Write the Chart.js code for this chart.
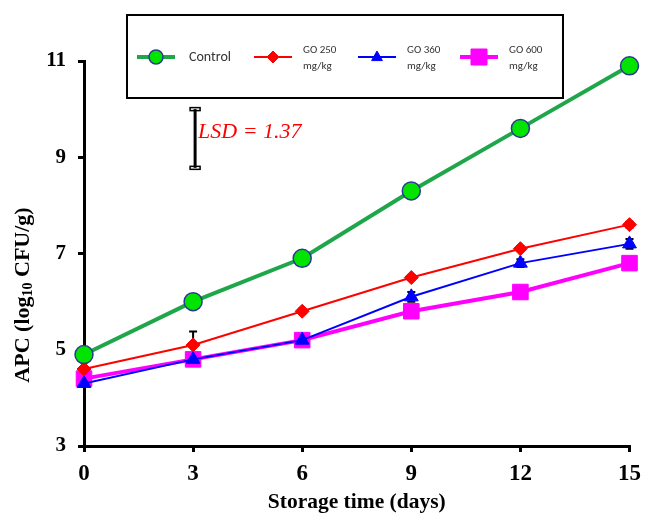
<!DOCTYPE html>
<html>
<head>
<meta charset="utf-8">
<script src="https://cdn.jsdelivr.net/npm/chart.js@4.4.1/dist/chart.umd.min.js"></script>
<style>
  html, body { margin: 0; padding: 0; background: #fff; }
  #wrap { position: relative; width: 649px; height: 515px; }
</style>
</head>
<body>
<div id="wrap"><canvas id="apcChart" width="649" height="515"></canvas></div>
<script>
  const days = [0, 3, 6, 9, 12, 15];
  const yTicks = [3, 5, 7, 9, 11];

  const control = [4.9, 6.0, 6.9, 8.3, 9.6, 10.9];
  const go250 = [4.6, 5.1, 5.8, 6.5, 7.1, 7.6];
  const go360 = [4.3, 4.8, 5.2, 6.1, 6.8, 7.2];
  const go600 = [4.4, 4.8, 5.2, 5.8, 6.2, 6.8];

  const controlErr = [0.05, 0.15, 0.05, 0.05, 0.05, 0.05];
  const go250Err = [0.05, 0.28, 0.05, 0.05, 0.05, 0.06];
  const go360Err = [0.05, 0.05, 0.05, 0.1, 0.08, 0.1];
  const go600Err = [0.04, 0.04, 0.04, 0.04, 0.04, 0.04];

  const lsdValue = 1.37;
  const lsdDay = 3;
  const lsdTop = 10.0;
  const lsdBottom = 8.78;

  const serif = '"Liberation Serif", "Times New Roman", serif';
  const sans = 'Calibri, Carlito, "Open Sans", "Liberation Sans", sans-serif';

  const toXY = (vals) => vals.map((v, i) => ({ x: days[i], y: v }));

  const series = [
    { label: 'Control', data: control, err: controlErr, line: '#1FA64A', width: 4, style: 'circle', radius: 9, fill: '#00E400', border: '#2B3990', borderW: 1.5 },
    { label: 'GO 250|mg/kg', data: go250, err: go250Err, line: '#FF0000', width: 2, style: 'rectRot', radius: 7, fill: '#FF0000', border: '#FF0000', borderW: 1 },
    { label: 'GO 360|mg/kg', data: go360, err: go360Err, line: '#0000FF', width: 2, style: 'triangle', radius: 8, fill: '#0000FF', border: '#0000FF', borderW: 1 },
    { label: 'GO 600|mg/kg', data: go600, err: go600Err, line: '#FF00FF', width: 4, style: 'rect', radius: 11, fill: '#FF00FF', border: '#FF00FF', borderW: 1 }
  ];

  function marker(ctx, s, x, y, r) {
    ctx.save();
    ctx.fillStyle = s.fill;
    ctx.strokeStyle = s.border;
    ctx.lineWidth = s.borderW;
    ctx.beginPath();
    if (s.style === 'circle') {
      ctx.arc(x, y, r, 0, Math.PI * 2);
    } else if (s.style === 'rectRot') {
      ctx.moveTo(x, y - r); ctx.lineTo(x + r, y); ctx.lineTo(x, y + r); ctx.lineTo(x - r, y); ctx.closePath();
    } else if (s.style === 'triangle') {
      ctx.moveTo(x, y - r); ctx.lineTo(x + r * 0.9, y + r * 0.6); ctx.lineTo(x - r * 0.9, y + r * 0.6); ctx.closePath();
    } else {
      ctx.rect(x - r, y - r, r * 2, r * 2);
    }
    ctx.fill();
    ctx.stroke();
    ctx.restore();
  }

  const errorBars = {
    id: 'errorBars',
    beforeDatasetsDraw(chart) {
      const { ctx, scales: { x, y } } = chart;
      ctx.save();
      ctx.strokeStyle = '#000';
      ctx.lineWidth = 2;
      series.forEach((s) => {
        s.data.forEach((v, i) => {
          const px = x.getPixelForValue(days[i]);
          const top = y.getPixelForValue(v + s.err[i]);
          const bot = y.getPixelForValue(v - s.err[i]);
          ctx.beginPath();
          ctx.moveTo(px, top); ctx.lineTo(px, bot);
          ctx.moveTo(px - 4, top); ctx.lineTo(px + 4, top);
          ctx.moveTo(px - 4, bot); ctx.lineTo(px + 4, bot);
          ctx.stroke();
        });
      });
      ctx.restore();
    },
    afterDraw(chart) {
      const { ctx, scales: { x, y } } = chart;
      const px = x.getPixelForValue(lsdDay) + 2;
      const top = y.getPixelForValue(lsdTop);
      const bot = y.getPixelForValue(lsdBottom);
      ctx.save();
      ctx.strokeStyle = '#000';
      ctx.lineWidth = 3;
      ctx.beginPath();
      ctx.moveTo(px, top); ctx.lineTo(px, bot);
      ctx.stroke();
      ctx.lineWidth = 1.5;
      ctx.strokeRect(px - 5, top - 1.5, 10, 3);
      ctx.strokeRect(px - 5, bot - 1.5, 10, 3);
      ctx.fillStyle = '#FF0000';
      ctx.font = 'italic 22px ' + serif;
      ctx.textBaseline = 'middle';
      ctx.fillText('LSD = ' + lsdValue, px + 3, (top + bot) / 2 - 6);

      // y axis title with a real subscript
      ctx.translate(23, 295);
      ctx.rotate(-Math.PI / 2);
      ctx.fillStyle = '#000';
      ctx.textBaseline = 'middle';
      const big = 'bold 22px ' + serif;
      const small = 'bold 14px ' + serif;
      const parts = [['APC (log', big, 0], ['10', small, 5], [' CFU/g)', big, 0]];
      let total = 0;
      parts.forEach((p) => { ctx.font = p[1]; total += ctx.measureText(p[0]).width; });
      let cx = -total / 2;
      parts.forEach((p) => {
        ctx.font = p[1];
        ctx.fillText(p[0], cx, p[2]);
        cx += ctx.measureText(p[0]).width;
      });
      ctx.restore();
    }
  };

  const legendBox = {
    id: 'legendBox',
    afterDraw(chart) {
      const ctx = chart.ctx;
      const bx = 127, by = 15, bw = 436, bh = 83;
      ctx.save();
      ctx.strokeStyle = '#000';
      ctx.lineWidth = 2;
      ctx.strokeRect(bx, by, bw, bh);
      const starts = [137, 254, 358, 460];
      series.forEach((s, i) => {
        const lx = starts[i];
        const cy = 57;
        ctx.strokeStyle = s.line;
        ctx.lineWidth = s.width;
        ctx.beginPath();
        ctx.moveTo(lx, cy); ctx.lineTo(lx + 38, cy);
        ctx.stroke();
        const r = s.style === 'circle' ? 7 : (s.style === 'rect' ? 8 : 6);
        marker(ctx, s, lx + 19, cy, r);
        const parts = s.label.split('|');
        ctx.fillStyle = '#333';
        ctx.textBaseline = 'middle';
        if (parts.length === 1) {
          ctx.font = '14px ' + sans;
          ctx.fillText(parts[0], lx + 52, cy);
        } else {
          ctx.font = '11px ' + sans;
          ctx.fillText(parts[0], lx + 49, cy - 7);
          ctx.fillText(parts[1], lx + 49, cy + 9);
        }
      });
      ctx.restore();
    }
  };

  new Chart(document.getElementById('apcChart'), {
    type: 'line',
    data: {
      datasets: series.map((s) => ({
        label: s.label,
        data: toXY(s.data),
        borderColor: s.line,
        borderWidth: s.width,
        pointStyle: s.style,
        pointRadius: s.radius,
        pointBackgroundColor: s.fill,
        pointBorderColor: s.border,
        pointBorderWidth: s.borderW,
        tension: 0,
        clip: false
      }))
    },
    options: {
      responsive: false,
      animation: false,
      layout: { padding: { top: 61, right: 18, left: 0, bottom: 0 } },
      plugins: {
        legend: { display: false },
        tooltip: { enabled: false }
      },
      scales: {
        x: {
          type: 'linear',
          min: 0,
          max: 15,
          afterBuildTicks: (scale) => { scale.ticks = days.map((d) => ({ value: d })); },
          afterFit: (scale) => { scale.height = 69; },
          border: { color: '#000', width: 3 },
          grid: { drawOnChartArea: false, drawTicks: true, tickLength: 6, color: '#000', lineWidth: 3 },
          ticks: { color: '#000', font: { family: serif, size: 23, weight: 'bold' }, padding: 8 },
          title: { display: true, text: 'Storage time (days)', color: '#000', font: { family: serif, size: 21.5, weight: 'bold' }, padding: { top: -6, bottom: 0 } }
        },
        y: {
          min: 3,
          max: 11,
          afterBuildTicks: (scale) => { scale.ticks = yTicks.map((v) => ({ value: v })); },
          afterFit: (scale) => { scale.width = 84; },
          border: { color: '#000', width: 3 },
          grid: { drawOnChartArea: false, drawTicks: true, tickLength: 6, color: '#000', lineWidth: 3 },
          ticks: { color: '#000', font: { family: serif, size: 21, weight: 'bold' }, padding: 12 }
        }
      }
    },
    plugins: [errorBars, legendBox]
  });
</script>
</body>
</html>
